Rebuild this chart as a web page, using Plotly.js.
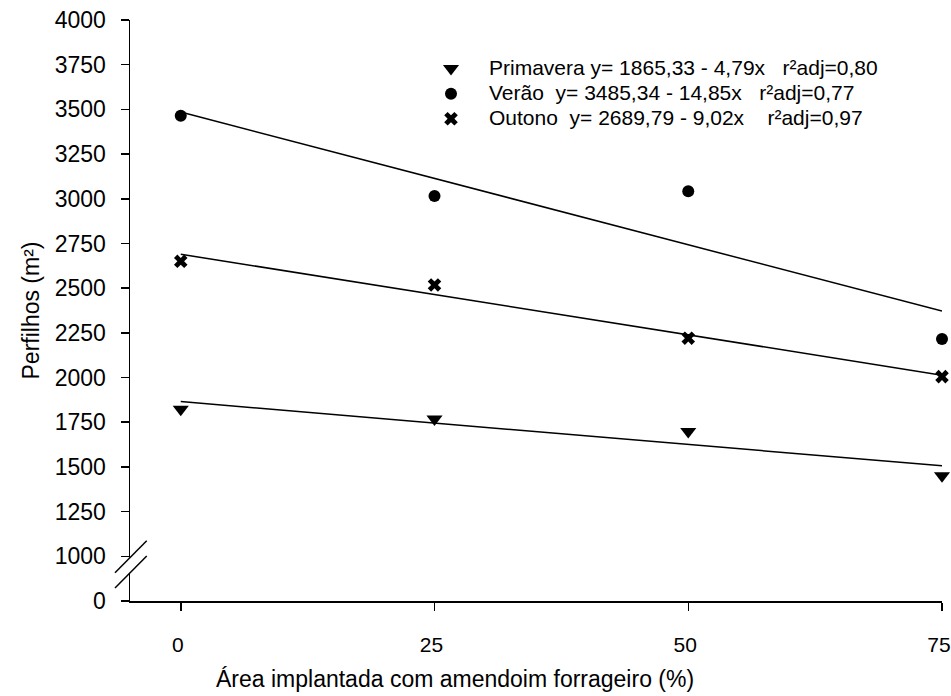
<!DOCTYPE html>
<html>
<head>
<meta charset="utf-8">
<script src="https://cdn.plot.ly/plotly-3.0.1.min.js"></script>
<style>html,body{margin:0;padding:0;background:#fff;}#chart{width:951px;height:696px;}</style>
</head>
<body>
<div id="chart"></div>
<script>
// ---- data ----
const xCats = [0, 25, 50, 75];
const primavera = [1822, 1768, 1698, 1450];
const verao = [3465, 3015, 3042, 2215];
const outono = [2650, 2518, 2220, 2005];

const fitX = [0, 75];
const fitPrimavera = [1865.33, 1506.08];
const fitVerao = [3485.34, 2371.59];
const fitOutono = [2689.79, 2013.29];

const legendTexts = [
  'Primavera y= 1865,33 - 4,79x\u00a0\u00a0\u00a0r²adj=0,80',
  'Verão\u00a0\u00a0y= 3485,34 - 14,85x\u00a0\u00a0\u00a0r²adj=0,77',
  'Outono\u00a0\u00a0y= 2689,79 - 9,02x\u00a0\u00a0\u00a0\u00a0r²adj=0,97'
];

const xTickVals = [0, 25, 50, 75];
const xTickLabels = ['0', '25', '50', '75'];
const yTickVals = [1000, 1250, 1500, 1750, 2000, 2250, 2500, 2750, 3000, 3250, 3500, 3750, 4000];
const yBreakValue = 750;   // where the "0" of the broken axis sits
const yTickLabels = ['0', '1000', '1250', '1500', '1750', '2000', '2250', '2500', '2750', '3000', '3250', '3500', '3750', '4000'];

const xTitle = 'Área implantada com amendoim forrageiro (%)';
const yTitle = 'Perfilhos (m²)';

const FONT = 'Liberation Sans, Arial, sans-serif';

const lineStyle = {color: '#000', width: 1.5};
const traces = [
  {x: fitX, y: fitPrimavera, mode: 'lines', line: lineStyle, showlegend: false, hoverinfo: 'skip'},
  {x: fitX, y: fitVerao, mode: 'lines', line: lineStyle, showlegend: false, hoverinfo: 'skip'},
  {x: fitX, y: fitOutono, mode: 'lines', line: lineStyle, showlegend: false, hoverinfo: 'skip'},
  {x: xCats, y: primavera, mode: 'markers', name: '\u00a0', cliponaxis: false,
   marker: {symbol: 'triangle-down', size: 14, color: '#000'}},
  {x: xCats, y: verao, mode: 'markers', name: '\u00a0', cliponaxis: false,
   marker: {symbol: 'circle', size: 12, color: '#000'}},
  {x: xCats, y: outono, mode: 'markers', name: '\u00a0', cliponaxis: false,
   marker: {symbol: 'x', size: 12, color: '#000'}}
];

const L = 130, R = 9, T = 20, B = 95;
const plotW = 951 - L - R, plotH = 696 - T - B;
const px2paperX = p => (p - L) / plotW;
const px2paperY = p => (696 - B - p) / plotH;

const legendRowsPx = [67, 92, 117];
const annotations = legendTexts.map((t, i) => ({
  text: t, xref: 'paper', yref: 'paper', x: px2paperX(487), y: px2paperY(legendRowsPx[i]),
  xanchor: 'left', yanchor: 'middle', showarrow: false,
  font: {family: FONT, size: 21, color: '#000'}
}));
annotations.push({
  text: xTitle, xref: 'paper', yref: 'paper', x: px2paperX(455), y: px2paperY(679),
  xanchor: 'center', yanchor: 'middle', showarrow: false,
  font: {family: FONT, size: 23, color: '#000'}
});

const layout = {
  width: 951, height: 696,
  margin: {l: L, r: R, t: T, b: B, pad: 0},
  paper_bgcolor: '#fff', plot_bgcolor: '#fff',
  font: {family: FONT, size: 23, color: '#000'},
  showlegend: true,
  legend: {
    x: px2paperX(416), y: px2paperY(51), xanchor: 'left', yanchor: 'top',
    font: {family: FONT, size: 17, color: '#000'},
    bgcolor: 'rgba(0,0,0,0)', itemwidth: 60, tracegroupgap: 0
  },
  annotations: annotations,
  xaxis: {
    range: [-5, 75], tickvals: xTickVals, ticktext: xTickLabels,
    showline: true, linecolor: '#000', linewidth: 1.5, mirror: false,
    ticks: 'outside', ticklen: 8, tickwidth: 1.5, tickcolor: '#000',
    showgrid: false, zeroline: false,
    ticklabelposition: 'outside', ticklabelstandoff: 16, ticklabelshift: -3,
    ticklabeloverflow: 'allow',
    tickfont: {family: FONT, size: 21}
  },
  yaxis: {
    range: [yBreakValue, 4000], tickvals: [yBreakValue].concat(yTickVals), ticktext: yTickLabels,
    showline: true, linecolor: '#000', linewidth: 1.5,
    ticks: 'outside', ticklen: 8, tickwidth: 1.5, tickcolor: '#000',
    showgrid: false, zeroline: false, ticklabelstandoff: 10, ticklabeloverflow: 'allow',
    tickfont: {family: FONT, size: 23},
    title: {text: yTitle, font: {family: FONT, size: 23}, standoff: 8}
  },
  shapes: [
    {type: 'line', xref: 'paper', yref: 'paper', x0: 0, x1: 0, y0: 0.0485, y1: 0.0749,
     line: {color: '#fff', width: 4}, layer: 'above'},
    {type: 'line', xref: 'paper', yref: 'paper', x0: -0.0185, y0: 0.0487, x1: 0.0206, y1: 0.1038,
     line: {color: '#000', width: 1.5}, layer: 'above'},
    {type: 'line', xref: 'paper', yref: 'paper', x0: -0.0185, y0: 0.0224, x1: 0.0206, y1: 0.0775,
     line: {color: '#000', width: 1.5}, layer: 'above'}
  ]
};

Plotly.newPlot('chart', traces, layout, {displayModeBar: false, staticPlot: true});
</script>
</body>
</html>
